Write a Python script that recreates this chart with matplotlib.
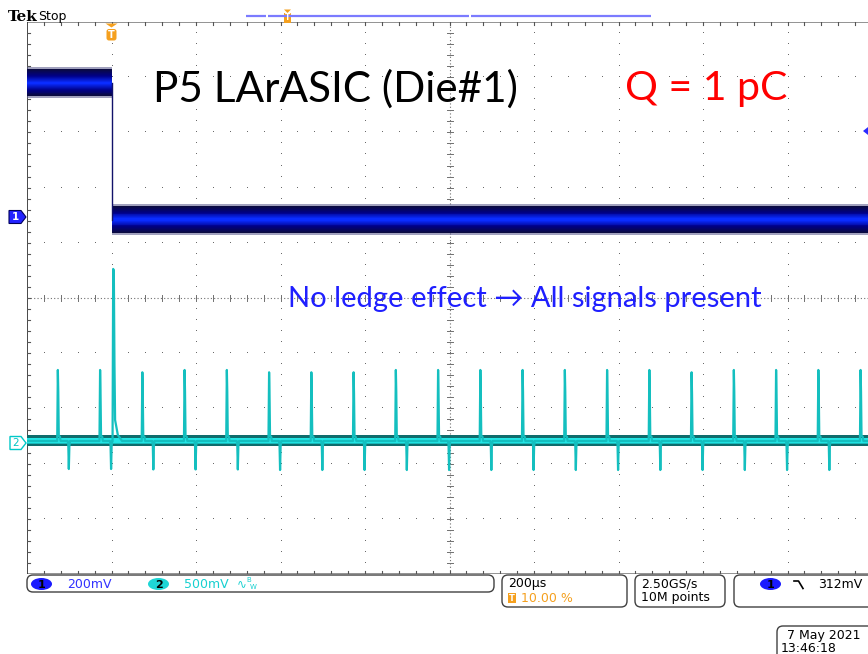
import numpy as np
import matplotlib
matplotlib.use("Agg")
import matplotlib.pyplot as plt
from matplotlib.colors import to_rgb
from matplotlib.patches import FancyBboxPatch, Ellipse, Polygon, Rectangle

W, H = 868, 654

# ---------------- acquisition settings ----------------
time_per_div_us = 200
trigger_pos_pct = 10.0
ch1_mv_per_div = 200
ch1_position_div = 1.467
ch2_mv_per_div = 500
ch2_position_div = -2.59
trigger_level_mv = 312

# ---------------- channel 1: step at the trigger ----------------
ch1_time_us = [-200, 0, 0, 1800]
ch1_level_mv = [487, 487, -9, -9]
ch1_noise_mv = 50

# ---------------- channel 2: pulse train ----------------
ch2_pulse_time_us = [-127, -27, 73, 173, 273, 373, 473, 573, 673, 773,
                     873, 973, 1073, 1173, 1273, 1373, 1473, 1573, 1673, 1773]
ch2_pulse_peak_mv = [643, 643, 622, 643, 643, 622, 622, 622, 643, 643,
                     643, 643, 643, 643, 643, 622, 643, 643, 643, 643]
ch2_dip_mv = [-254, -254, -258, -258, -258, -263, -263, -263, -263, -263,
              -263, -263, -263, -263, -263, -263, -263, -263, -263, -263]
ch2_dip_delay_us = 26
ch2_noise_mv = 50

# pulse templates (offset in us, fraction of amplitude)
pos_shape_dt = [-1.5, -0.6, 0.0, 1.0, 2.2, 5.0, 6.5]
pos_shape_frac = [0.0, 0.72, 1.0, 0.70, 0.07, 0.06, 0.0]
neg_shape_dt = [-2.8, -1.3, 0.0, 1.3, 2.8]
neg_shape_frac = [0.0, 0.12, 1.0, 0.18, 0.0]

# feed-through spike on channel 2 at the channel 1 edge
ch2_edge_time_us = [2.5, 4.0, 5.5, 7.0, 8.5, 15.0, 25.0]
ch2_edge_mv = [0, 1558, 1540, 700, 190, 54, 0]

# ---------------- figure ----------------
fig = plt.figure(figsize=(W / 100, H / 100), dpi=100)
fig.patch.set_facecolor("white")

gx0, gx1, gy0, gy1 = 27, 872, 22, 574   # graticule edges in pixels
rect = [gx0 / W, 1 - gy1 / H, (gx1 - gx0) / W, (gy1 - gy0) / H]

# graticule axes in division units
ax = fig.add_axes(rect, zorder=1)
ax.set_xlim(0, 10)
ax.set_ylim(-5, 5)
ax.axis("off")

px_x = 10 / (gx1 - gx0)
px_y = 10 / (gy1 - gy0)
grid_c = "#6a6a6a"
minor = [i * 0.2 for i in range(1, 50)]

for xm in range(1, 10):
    if xm == 5:
        continue
    ax.plot([xm] * len(minor), [m - 5 for m in minor], ",", color=grid_c)
for ym in range(-4, 5):
    if ym == 0:
        continue
    ax.plot(minor, [ym] * len(minor), ",", color=grid_c)

# centre cross
ax.plot([0, 10], [0, 0], color="#707070", lw=0.8, ls=(0, (1, 2)))
ax.plot([5, 5], [-5, 5], color="#707070", lw=0.8, ls=(0, (1, 2)))
for m in minor:
    ax.plot([m, m], [-3 * px_y, 3 * px_y], color="#707070", lw=0.7)
    ax.plot([5 - 3 * px_x, 5 + 3 * px_x], [m - 5, m - 5], color="#707070", lw=0.7)

# frame and edge ticks
ax.plot([0, 10], [5, 5], color="#8a8a8a", lw=1.3)
ax.plot([0, 10], [-5, -5], color="#8a8a8a", lw=1.3)
ax.plot([0, 0], [-5, 5], color="#3a3a3a", lw=1.3)
for m in minor:
    ax.plot([m, m], [5, 5 - 3 * px_y], color="#555555", lw=0.8)
    ax.plot([m, m], [-5, -5 + 3 * px_y], color="#555555", lw=0.8)
    ax.plot([0, 3 * px_x], [m - 5, m - 5], color="#555555", lw=0.8)

t_left = -trigger_pos_pct / 100 * 10 * time_per_div_us
t_right = t_left + 10 * time_per_div_us


def shade_layers(edge, mid, centre, n=14):
    """Colour ramp from the edge of a persistence band to its centre."""
    e, m, c = (np.array(to_rgb(k)) for k in (edge, mid, centre))
    out = []
    for i, f in enumerate(np.linspace(1.0, 0.08, n)):
        s = i / (n - 1)
        col = e + (m - e) * (s / 0.5) if s < 0.5 else m + (c - m) * ((s - 0.5) / 0.5)
        out.append((f, tuple(col)))
    return out


# ---------------- channel 1 ----------------
ax1 = fig.add_axes(rect, zorder=3)
ax1.set_xlim(t_left, t_right)
ax1.set_ylim((-5 - ch1_position_div) * ch1_mv_per_div, (5 - ch1_position_div) * ch1_mv_per_div)
ax1.axis("off")
ax1.patch.set_alpha(0)

ch1_layers = [(1.1, "#55558a")] + shade_layers("#0a0a40", "#000088", "#0a2cff")
for i0, i1 in [(0, 1), (2, 3)]:
    ts = [ch1_time_us[i0], ch1_time_us[i1]]
    lv = ch1_level_mv[i0]
    for f, c in ch1_layers:
        ax1.fill_between(ts, lv - f * ch1_noise_mv, lv + f * ch1_noise_mv,
                         color=c, lw=0, alpha=0.55 if f > 1 else 1.0)
ax1.plot(ch1_time_us[1:3], ch1_level_mv[1:3], color="#12126a", lw=1.0)

# ---------------- channel 2 ----------------
ax2 = fig.add_axes(rect, zorder=2)
ax2.set_xlim(t_left, t_right)
ax2.set_ylim((-5 - ch2_position_div) * ch2_mv_per_div, (5 - ch2_position_div) * ch2_mv_per_div)
ax2.axis("off")
ax2.patch.set_alpha(0)

ax2.fill_between([t_left, t_right], -ch2_noise_mv, ch2_noise_mv, color="#0f6c6c", lw=0)
ax2.fill_between([t_left, t_right], -0.6 * ch2_noise_mv, 0.6 * ch2_noise_mv,
                 color="#18b8b8", lw=0)
ax2.fill_between([t_left, t_right], -0.4 * ch2_noise_mv, 0.45 * ch2_noise_mv,
                 color="#22e6e6", lw=0)

events = [(t_left, 0.0), (t_right, 0.0)]
for tp, pk, dp in zip(ch2_pulse_time_us, ch2_pulse_peak_mv, ch2_dip_mv):
    for dt, f in zip(pos_shape_dt, pos_shape_frac):
        events.append((tp + dt, pk * f))
    td = tp + ch2_dip_delay_us
    for dt, f in zip(neg_shape_dt, neg_shape_frac):
        events.append((td + dt, dp * f))
for tt, vv in zip(ch2_edge_time_us, ch2_edge_mv):
    events.append((tt, vv))
events.sort()
ax2.plot([e[0] for e in events], [e[1] for e in events], color="#14bfbf", lw=1.6)

# ---------------- overlay (pixel units) ----------------
ui = fig.add_axes([0, 0, 1, 1], zorder=10)
ui.set_xlim(0, W)
ui.set_ylim(H, 0)
ui.axis("off")
ui.patch.set_alpha(0)

orange = "#f5a01e"
ui_font = "DejaVu Sans"

# header
ui.text(8, 21, "Tek", family="DejaVu Serif", weight="bold", fontsize=11, va="baseline")
ui.text(38, 20, "Stop", family=ui_font, fontsize=9, va="baseline")
ui.plot([246, 266.3], [16, 16], color="#7b7bff", lw=1.6, solid_capstyle="butt")
ui.plot([267.7, 469.3], [16, 16], color="#7b7bff", lw=1.6, solid_capstyle="butt")
ui.plot([471, 651], [16, 16], color="#7b7bff", lw=1.6, solid_capstyle="butt")
ui.add_patch(Polygon([(284, 9.5), (291, 9.5), (287.5, 13)], color=orange, lw=0))
ui.add_patch(Rectangle((284, 13), 7, 9.5, color=orange, lw=0))
ui.text(287.5, 18, "T", color="white", fontsize=5.5, weight="bold", ha="center", va="center")

# trigger position marker
ui.add_patch(Polygon([(105.5, 23.5), (117.5, 23.5), (111.5, 27.5)], color=orange, lw=0))
ui.add_patch(FancyBboxPatch((106.5, 29), 10, 11.5, boxstyle="round,pad=0,rounding_size=2.5",
                            color=orange, lw=0))
ui.text(111.5, 35, "T", color="white", fontsize=7, weight="bold", ha="center", va="center")

# channel ground markers
ui.add_patch(Polygon([(9, 210.5), (21, 210.5), (26, 217), (21, 223.5), (9, 223.5)],
                     facecolor="#2323ff", edgecolor="#00005a", lw=0.8))
ui.text(15.5, 217.5, "1", color="white", fontsize=7.5, weight="bold", ha="center", va="center")
ui.add_patch(Polygon([(10, 436.5), (21, 436.5), (26, 443), (21, 449.5), (10, 449.5)],
                     facecolor="white", edgecolor="#00c8c8", lw=1.0))
ui.text(16, 443.5, "2", color="#00c4c4", fontsize=7.5, ha="center", va="center")

# trigger level marker
ui.add_patch(Polygon([(863, 131), (870, 125.5), (870, 136.5)], color="#2a2aff", lw=0))

# bottom status boxes
def box(x0, y0, x1, y1):
    ui.add_patch(FancyBboxPatch((x0, y0), x1 - x0, y1 - y0,
                                boxstyle="round,pad=0,rounding_size=6",
                                facecolor="white", edgecolor="#404040", lw=1.0))

box(27, 575, 494, 592)
ui.add_patch(Ellipse((41.5, 584), 21, 12, color="#1a1aff", lw=0))
ui.text(41.5, 584.5, "1", color="black", fontsize=8, weight="bold", ha="center", va="center")
ui.text(67, 584, "200mV", color="#3232ff", family=ui_font, fontsize=9, va="center")
ui.add_patch(Ellipse((158.5, 584), 21, 12, color="#1fd6d6", lw=0))
ui.text(158.5, 584.5, "2", color="black", fontsize=8, weight="bold", ha="center", va="center")
ui.text(184, 584, "500mV", color="#16d0d0", family=ui_font, fontsize=9, va="center")
ui.text(237, 584, "\u223f", color="#16d0d0", family=ui_font, fontsize=8.5, va="center")
ui.text(246, 580, "B", color="#16d0d0", family=ui_font, fontsize=5, va="center")
ui.text(250, 587, "W", color="#16d0d0", family=ui_font, fontsize=5, va="center")

box(502, 575, 627, 607)
ui.text(508, 584, "200\u00b5s", color="black", family=ui_font, fontsize=9, va="center")
ui.add_patch(Rectangle((508, 593), 8, 10, color=orange, lw=0))
ui.text(512, 598.5, "T", color="white", fontsize=6, weight="bold", ha="center", va="center")
ui.text(521, 598, "10.00 %", color=orange, family=ui_font, fontsize=9, va="center")

box(635, 575, 725, 607)
ui.text(641, 584, "2.50GS/s", color="black", family=ui_font, fontsize=9, va="center")
ui.text(641, 598, "10M points", color="black", family=ui_font, fontsize=9, va="center")

box(734, 575, 890, 607)
ui.add_patch(Ellipse((770.5, 584), 21, 12, color="#1a1aff", lw=0))
ui.text(770.5, 584.5, "1", color="black", fontsize=8, weight="bold", ha="center", va="center")
ui.plot([794, 798.5, 803], [581, 581, 588.5], color="black", lw=1.2)
ui.text(818, 584, f"{trigger_level_mv}mV", color="black", family=ui_font, fontsize=9, va="center")

box(777, 626, 890, 670)
ui.text(787, 635, "7 May 2021", color="black", family=ui_font, fontsize=9, va="center")
ui.text(781, 648, "13:46:18", color="black", family=ui_font, fontsize=9, va="center")

# annotations
fig.canvas.draw()
renderer = fig.canvas.get_renderer()


def fitted_text(x, y, s, width_px, **kw):
    t = ui.text(x, y, s, va="baseline", ha="left", **kw)
    w = t.get_window_extent(renderer).width
    t.set_fontsize(t.get_fontsize() * width_px / w)
    return t


note_font = ["Lato", "DejaVu Sans"]
fitted_text(153, 102, "P5 LArASIC (Die#1)", 364, family=note_font, color="black", fontsize=30)
fitted_text(625, 100, "Q = 1 pC", 162, family=note_font, color="#ff0000", fontsize=30)
fitted_text(288, 307, "No ledge effect \u2192 All signals present", 473,
            family=note_font, color="#1f1fff", fontsize=20)

fig.savefig("out.png", dpi=100, facecolor="white")
